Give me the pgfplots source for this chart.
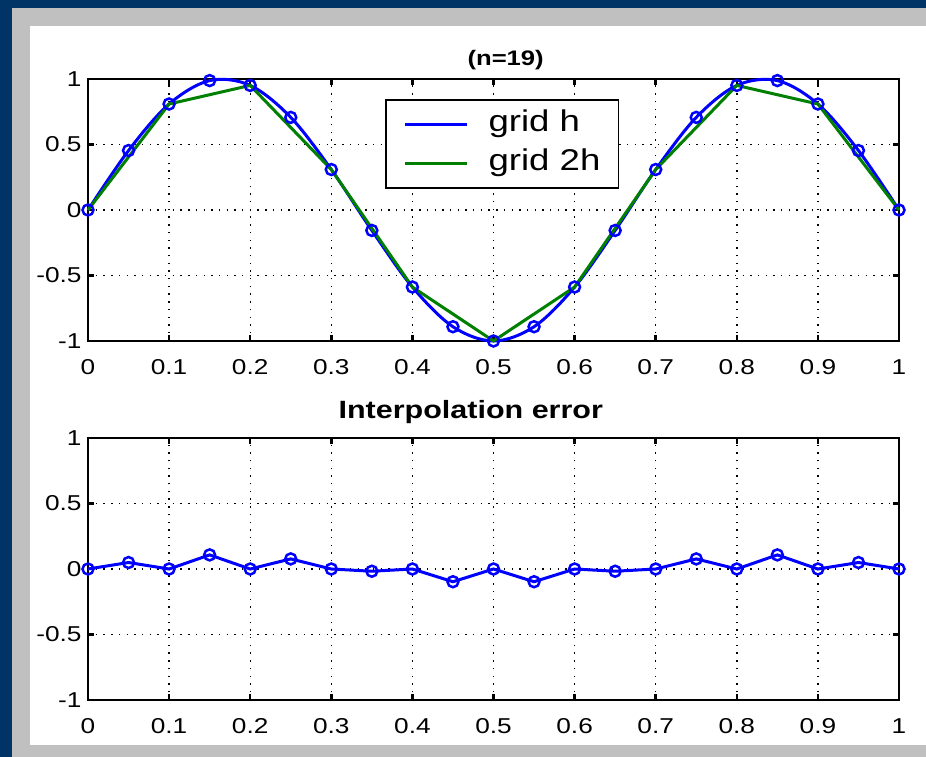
\documentclass[border=0pt]{standalone}
\usepackage{pgfplots}
\pgfplotsset{compat=1.18}
\usepackage{fontspec}
\setmainfont{Liberation Sans}[FakeStretch=1.22]
\definecolor{navy}{HTML}{003366}
\definecolor{framegray}{HTML}{C0C0C0}
\definecolor{mgreen}{HTML}{008000}
\definecolor{mblue}{HTML}{0000FF}

\pgfplotsset{
  myaxis/.style={
    scale only axis, width=811pt, height=262pt,
    xmin=0, xmax=1, ymin=-1, ymax=1,
    clip=false,
    xtick={0,0.1,0.2,0.3,0.4,0.5,0.6,0.7,0.8,0.9,1},
    xticklabels={0,0.1,0.2,0.3,0.4,0.5,0.6,0.7,0.8,0.9,1},
    ytick={-1,-0.5,0,0.5,1},
    yticklabels={-1,-0.5,0,0.5,1},
    grid=major,
    major grid style={black, line width=1.4pt, dash pattern=on 1.4pt off 6.3pt},
    axis line style={black, line width=2.5pt},
    every outer x axis line/.append style={line width=2.5pt},
    every outer y axis line/.append style={line width=2.5pt},
    tick style={black, line width=2.5pt},
    major tick length=6pt,
    ticklabel style={font=\fontsize{21.5}{24}\selectfont},
    xticklabel style={yshift=-15pt},
    yticklabel style={xshift=-3pt},
    title style={font=\bfseries\fontsize{21}{24}\selectfont, anchor=center},
  }
}

\begin{document}
\begin{tikzpicture}
\fill[navy] (0pt,0pt) rectangle (926pt,-757pt);
\fill[framegray] (12pt,-8pt) rectangle (926pt,-757pt);
\fill[white] (30pt,-26pt) rectangle (926pt,-745pt);
\useasboundingbox (0pt,0pt) rectangle (926pt,-757pt);

\begin{axis}[myaxis,
  at={(88pt,-341pt)}, anchor=south west,
  title={(n=19)},
  title style={at={(0.515,1)}, yshift=13pt},
  legend style={at={(0.366,0.924)}, anchor=north west, draw=black, line width=1.8pt,
    font=\fontsize{30}{36}\selectfont, inner xsep=18pt, inner ysep=10pt,
    row sep=10pt, column sep=20pt,
    nodes={inner sep=0pt, text height=22pt, text depth=7pt}},
  legend cell align=left,
  legend image code/.code={\draw[#1, line width=2.8pt] (0pt,0pt) -- (62pt,0pt);},
]
\addplot[mblue, line width=3pt, smooth, tension=0.55, mark=o, mark size=5.5pt, mark options={line width=2.5pt}]
coordinates {
(0,0) (0.05,0.454) (0.1,0.809) (0.15,0.988) (0.2,0.951) (0.25,0.707) (0.3,0.309)
(0.35,-0.156) (0.4,-0.588) (0.45,-0.891) (0.5,-1) (0.55,-0.891) (0.6,-0.588)
(0.65,-0.156) (0.7,0.309) (0.75,0.707) (0.8,0.951) (0.85,0.988) (0.9,0.809)
(0.95,0.454) (1,0)
};
\addlegendentry{grid h}
\addplot[mgreen, line width=3pt]
coordinates {
(0,0) (0.1,0.809) (0.2,0.951) (0.3,0.309) (0.4,-0.588) (0.5,-1) (0.6,-0.588)
(0.7,0.309) (0.8,0.951) (0.9,0.809) (1,0)
};
\addlegendentry{grid 2h}
\end{axis}

\begin{axis}[myaxis,
  at={(88pt,-700pt)}, anchor=south west,
  title={Interpolation error},
  title style={at={(0.472,1)}, yshift=20pt, font=\bfseries\fontsize{25}{28}\selectfont},
]
\addplot[mblue, line width=3pt, mark=o, mark size=5.5pt, mark options={line width=2.5pt}]
coordinates {
(0,0) (0.05,0.0495) (0.1,0) (0.15,0.1077) (0.2,0) (0.25,0.0771) (0.3,0)
(0.35,-0.0170) (0.4,0) (0.45,-0.0971) (0.5,0) (0.55,-0.0971) (0.6,0)
(0.65,-0.0170) (0.7,0) (0.75,0.0771) (0.8,0) (0.85,0.1077) (0.9,0)
(0.95,0.0495) (1,0)
};
\end{axis}
\end{tikzpicture}
\end{document}
